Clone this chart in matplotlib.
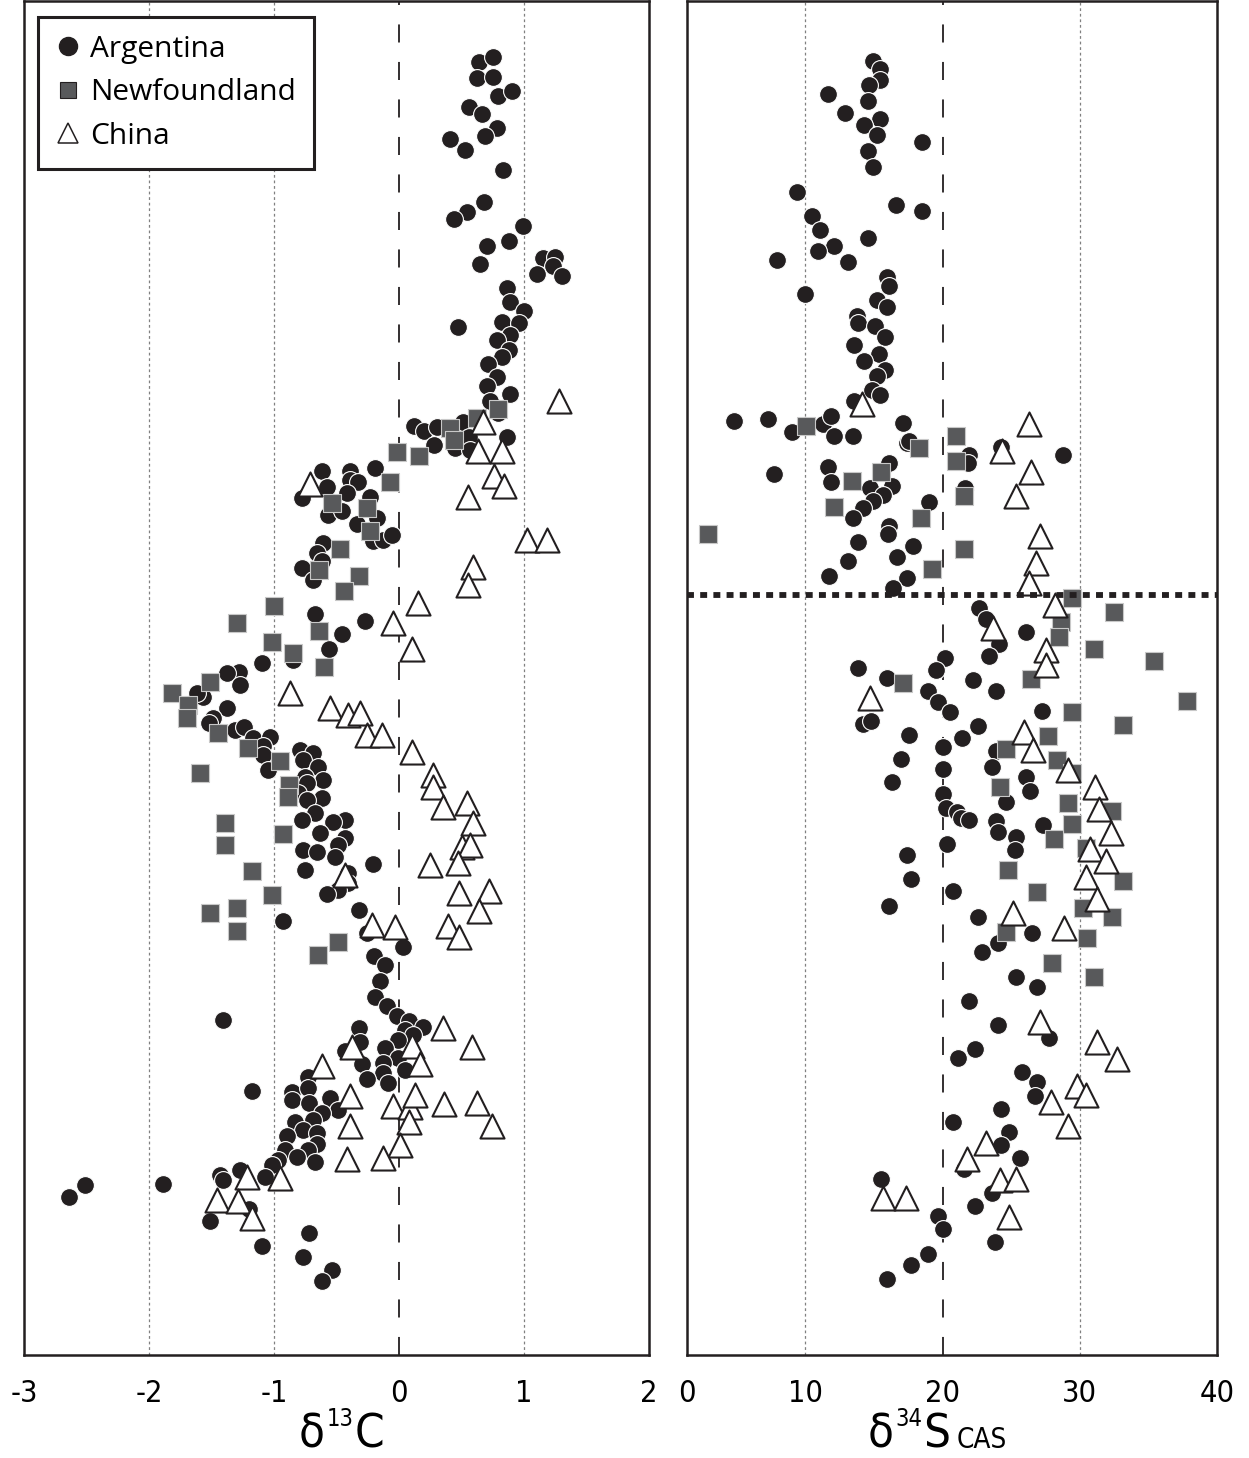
import matplotlib
matplotlib.use("Agg")
import matplotlib.pyplot as plt
from matplotlib.lines import Line2D
from matplotlib import font_manager as fm
from matplotlib.font_manager import FontProperties

# ---- pick a condensed sans font if one is installed ----
_files = [f.fname for f in fm.fontManager.ttflist]
_pref = ['LiberationSansNarrow-Regular', 'DejaVuSansCondensed.ttf', 'RobotoCondensed-Regular',
         'Roboto_Condensed-Regular', 'OpenSans_Condensed-Regular', 'OpenSans-CondensedRegular',
         'NotoSans-CondensedRegular', 'NotoSans_Condensed-Regular']
COND_FILE = None
for p in _pref:
    for f in _files:
        if p.lower() in f.lower():
            COND_FILE = f
            break
    if COND_FILE:
        break
if COND_FILE is None:
    for f in _files:
        fl = f.lower()
        if ('condensed' in fl or 'narrow' in fl) and not any(k in fl for k in ('bold', 'italic', 'oblique', 'light', 'thin', 'black', 'semi', 'medium', 'extra')):
            COND_FILE = f
            break


def cfont(size):
    if COND_FILE:
        return FontProperties(fname=COND_FILE, size=size)
    return FontProperties(family='Roboto', size=size)


plt.rcParams['lines.scale_dashes'] = False

# ---------------- data: delta13C (left panel), height in arbitrary units ----------------
arg_c_x = [0.64,0.75,0.62,0.75,0.79,0.90,0.56,0.66,0.78,0.69,0.41,0.53,0.83,0.68,0.54,0.44,0.99,0.70,0.88,0.65,
           1.15,1.25,1.23,1.10,1.30,0.86,0.89,1.00,0.82,0.96,0.89,0.47,0.78,0.88,0.82,0.71,0.78,0.70,0.89,0.73,
           0.79,0.12,0.20,0.30,0.51,0.28,0.45,0.56,0.57,0.86,-0.62,-0.39,-0.19,-0.39,-0.33,-0.58,-0.42,-0.78,-0.23,-0.57,
           -0.46,-0.18,-0.34,-0.21,-0.13,-0.06,-0.61,-0.66,-0.62,-0.78,-0.69,-0.67,-0.27,-0.46,-0.56,-0.85,-1.10,-1.28,-1.38,-1.27,
           -1.57,-1.62,-1.38,-1.49,-1.52,-1.31,-1.24,-1.17,-1.03,-1.09,-1.09,-1.05,-0.79,-0.69,-0.77,-0.65,-0.75,-0.61,-0.74,-0.81,
           -0.62,-0.74,-0.67,-0.78,-0.43,-0.53,-0.63,-0.43,-0.49,-0.77,-0.66,-0.51,-0.21,-0.75,-0.41,-0.41,-0.49,-0.58,-0.93,-0.32,
           -0.26,0.03,-0.20,-0.11,-0.15,-0.19,-0.10,-0.02,0.08,0.19,0.05,0.11,-0.01,-0.11,-0.01,-0.13,0.05,-0.13,-0.09,-0.32,
           -0.31,-0.43,-0.30,-0.26,-1.41,-1.18,-0.73,-0.86,-0.73,-0.86,-0.72,-0.55,-0.49,-0.62,-0.69,-0.83,-0.77,-0.66,-0.90,-0.66,
           -0.73,-0.91,-0.82,-0.67,-0.97,-1.02,-1.07,-1.27,-1.43,-1.41,-2.51,-2.64,-1.89,-1.20,-1.51,-1.10,-0.72,-0.77,-0.54,-0.62]
arg_c_h = [129.3,129.8,127.7,127.8,125.9,126.4,124.8,124.1,122.7,121.9,121.6,120.5,118.5,115.3,114.3,113.6,112.9,110.9,111.4,109.1,
           109.7,109.8,108.9,108.1,107.9,106.7,105.3,104.4,103.3,103.2,102.0,102.8,101.5,100.5,99.8,99.1,97.8,96.9,96.1,95.4,
           94.2,92.9,92.4,92.8,93.3,91.0,90.7,91.8,90.5,91.8,88.4,88.4,88.7,87.5,87.3,86.8,86.2,85.7,85.8,84.0,
           84.4,83.7,83.1,81.4,81.5,82.0,81.2,80.2,79.4,78.7,77.5,74.1,73.4,72.1,70.6,69.5,69.2,68.3,68.2,67.0,
           65.8,66.2,64.7,63.7,63.2,62.5,62.8,61.7,61.8,60.9,60.0,58.5,60.5,60.2,59.5,58.8,57.8,57.5,57.2,56.2,
           55.7,55.5,54.2,53.5,53.5,53.3,52.2,51.7,51.0,50.5,50.3,49.8,49.1,48.5,48.2,47.2,46.5,46.1,43.4,44.5,
           42.2,40.8,39.9,39.0,37.4,35.8,34.9,33.9,33.4,32.8,32.5,32.0,31.5,30.7,29.7,29.2,28.5,28.2,27.2,32.7,
           31.3,30.4,29.1,27.6,33.5,26.4,27.8,26.3,26.7,25.5,25.2,25.7,24.5,24.2,23.5,23.3,22.5,22.2,21.9,21.1,
           20.5,20.5,19.8,19.3,19.5,19.0,17.8,18.5,18.0,17.5,17.0,15.8,17.1,14.6,13.4,10.9,12.2,9.8,8.5,7.4]

nfl_c_x = [0.79,0.62,0.41,0.44,-0.02,0.16,-0.07,-0.54,-0.26,-0.23,-0.47,-0.64,-0.32,-0.44,-1.00,-1.30,-0.64,-1.02,-0.85,-0.60,
           -1.51,-1.82,-1.69,-1.70,-1.45,-1.21,-0.95,-0.88,-0.89,-1.59,-1.39,-1.39,-0.93,-1.18,-1.02,-1.51,-1.30,-1.30,-0.49,-0.65]
nfl_c_h = [94.6,93.7,92.7,91.5,90.3,89.9,87.3,85.2,84.7,82.4,80.6,78.5,77.9,76.4,74.9,73.2,72.4,71.3,70.2,68.8,
           67.3,66.2,65.0,63.7,62.2,60.7,59.4,57.0,55.8,58.2,53.2,51.0,52.1,48.4,46.0,44.2,44.7,42.4,41.3,40.0]

chn_c_x = [1.28,0.67,0.63,0.82,0.76,0.84,0.55,-0.71,1.02,1.18,0.59,0.55,0.15,-0.05,0.10,-0.87,-0.55,-0.41,-0.31,-0.26,
           -0.14,0.10,0.27,0.27,0.35,0.54,0.59,0.50,0.57,0.47,0.25,-0.43,0.48,0.72,0.64,0.39,0.48,-0.22,-0.03,0.35,
           0.58,0.10,0.17,-0.38,-0.62,-0.39,-0.05,0.09,0.13,0.36,0.62,0.74,0.08,-0.39,0.01,-0.42,-0.13,-0.95,-1.22,-1.46,
           -1.29,-1.18]
chn_c_h = [95.4,93.3,90.4,90.4,87.9,86.9,85.8,87.1,81.5,81.5,78.8,77.0,75.2,73.2,70.6,66.2,64.7,64.0,64.2,62.0,
           62.0,60.3,58.0,56.8,54.8,55.2,53.2,50.8,51.0,49.2,49.0,48.0,46.2,46.4,44.4,42.9,41.8,43.0,42.8,32.7,
           30.8,30.9,29.1,30.8,28.9,25.9,24.9,24.8,26.0,25.1,25.2,22.9,23.3,22.9,21.0,19.6,19.7,17.7,17.8,15.5,
           15.4,13.7]

# ---------------- data: delta34S CAS (right panel) ----------------
arg_s_x = [14.91,15.42,15.42,14.62,11.64,14.55,12.87,15.42,14.25,15.20,18.47,14.55,14.91,9.38,16.58,18.47,10.47,11.05,14.55,12.07,
           10.91,7.93,13.09,15.93,16.07,9.96,15.20,15.93,13.75,13.82,15.05,15.78,13.53,15.35,14.25,15.78,15.20,14.84,15.42,13.53,
           4.80,7.27,9.02,11.27,11.85,12.07,13.45,17.09,17.38,17.53,21.96,21.82,24.29,28.80,7.71,11.64,11.85,16.07,16.29,14.69,
           15.64,14.91,18.98,14.18,13.45,21.67,16.07,16.00,13.82,17.82,16.65,13.09,11.71,17.38,16.36,22.69,23.20,26.11,24.15,23.35,
           20.15,19.49,13.82,15.93,22.25,23.93,18.91,19.64,20.58,27.27,14.18,14.76,22.55,17.53,21.45,20.00,23.93,16.95,20.00,23.64,
           26.11,16.29,26.40,20.07,24.65,20.22,21.09,21.38,21.96,23.93,24.07,27.35,25.38,25.31,20.29,17.38,17.67,20.73,16.07,22.55,
           26.55,24.07,22.91,25.38,26.91,21.96,24.07,27.78,22.40,21.16,25.82,26.91,26.76,24.29,20.73,24.87,24.29,25.67,15.49,21.60,
           23.64,22.33,19.64,20.07,23.85,18.91,17.67,15.93]
arg_s_h = [129.4,128.6,127.5,127.0,126.1,125.4,124.2,123.6,123.0,122.0,121.3,120.4,118.8,116.3,115.0,114.4,113.9,112.5,111.7,110.9,
           110.4,109.5,109.3,107.8,106.9,106.1,105.5,104.8,103.9,103.2,102.9,101.8,101.0,100.1,99.4,98.5,97.9,96.5,96.0,95.4,
           93.4,93.6,92.3,93.1,93.9,91.9,91.9,93.2,91.2,91.4,90.0,89.2,90.8,90.0,88.1,88.8,87.3,89.2,86.9,86.7,
           86.0,85.4,85.3,84.7,83.7,86.7,82.9,82.1,81.3,80.9,79.8,79.4,77.9,77.7,76.7,74.7,73.6,72.3,71.1,69.9,
           69.7,68.5,68.7,67.7,67.5,66.4,66.4,65.3,64.3,64.4,63.1,63.4,62.9,62.0,61.7,60.8,60.4,59.6,58.6,58.8,
           57.8,57.3,56.4,56.1,55.3,54.7,54.3,53.7,53.5,53.4,52.3,53.0,51.8,50.5,51.1,50.0,47.6,46.4,44.9,43.8,
           42.2,41.2,40.3,37.8,36.8,35.4,33.0,31.7,30.6,29.7,28.3,27.3,25.9,24.6,23.3,22.3,21.0,19.7,17.6,18.6,
           16.2,14.9,13.9,12.6,11.3,10.1,9.0,7.6]

nfl_s_x = [10.04,18.25,20.95,20.95,15.49,13.38,12.07,21.60,18.40,2.91,21.60,19.20,29.45,32.51,28.65,28.51,31.05,35.42,17.09,26.47,
           37.82,29.45,33.16,27.71,24.65,28.36,29.45,24.22,29.16,32.36,29.45,28.15,30.47,24.80,33.16,26.91,30.25,32.36,24.65,30.55,
           28.00,31.05]
nfl_s_h = [92.9,90.7,91.9,89.4,88.3,87.4,84.8,85.9,83.7,82.1,80.6,78.6,75.7,74.3,73.3,71.8,70.6,69.4,67.2,67.6,
           65.4,64.3,63.0,61.9,60.6,59.5,58.2,56.8,55.2,54.4,53.1,51.6,50.7,48.5,47.4,46.3,44.7,43.8,42.3,41.7,
           39.2,37.8]

chn_s_x = [14.11,26.33,24.36,26.47,25.38,27.13,26.84,26.33,28.22,23.71,27.56,27.56,14.69,25.96,26.62,29.16,31.13,31.42,32.29,30.76,
           31.93,30.47,31.27,25.16,28.87,27.13,31.27,32.73,29.82,30.47,27.93,29.16,23.20,21.75,24.22,25.38,15.64,17.31,24.87]
chn_s_h = [95.1,93.1,90.4,88.3,85.9,81.9,79.2,77.2,75.0,72.7,70.5,69.0,65.7,62.3,60.5,58.5,56.8,54.6,52.2,50.6,
           49.4,47.8,45.6,44.2,42.7,33.3,31.3,29.6,26.9,26.0,25.3,22.9,21.2,19.6,17.5,17.6,15.7,15.7,13.8]

boundary_h = 76.0  # dotted horizontal boundary in the sulfur panel

c13_ticks = [-3, -2, -1, 0, 1, 2]
c13_labels = ['-3', '-2', '-1', '0', '1', '2']
s34_ticks = [1.38, 10, 20, 30, 40]
s34_labels = ['0', '10', '20', '30', '40']
legend_labels = ['Argentina', 'Newfoundland', 'China']

# ---------------- styles ----------------
DARK = '#231f20'
GREY = '#58595b'
circ = dict(marker='o', s=165, facecolor=DARK, edgecolor='white', linewidths=0.8, zorder=3)
sq = dict(marker='s', s=150, facecolor=GREY, edgecolor='#c8c8c8', linewidths=0.8, zorder=4)
tri = dict(marker='^', s=300, facecolor='white', edgecolor=DARK, linewidths=1.5, zorder=5)

W, H = 1249, 1458
fig = plt.figure(figsize=(W / 100, H / 100), dpi=100)
axL = fig.add_axes([24 / W, (H - 1355) / H, 625 / W, 1354 / H])
axR = fig.add_axes([687 / W, (H - 1355) / H, 530 / W, 1354 / H])

for ax in (axL, axR):
    ax.set_ylim(0, 135.4)
    ax.set_yticks([])
    for sp in ax.spines.values():
        sp.set_linewidth(1.8)
        sp.set_color(DARK)
    ax.tick_params(axis='x', length=0, pad=17)

# left panel
axL.set_xlim(-3, 2)
for gx in (-2, -1, 1):
    axL.axvline(gx, color='#808080', lw=0.9, ls=(0, (2, 2)), zorder=1)
axL.axvline(0, color=DARK, lw=1.3, ls=(0, (13, 14)), zorder=1)
axL.scatter(arg_c_x, arg_c_h, **circ)
axL.scatter(nfl_c_x, nfl_c_h, **sq)
axL.scatter(chn_c_x, chn_c_h, **tri)
axL.set_xticks(c13_ticks)
axL.set_xticklabels(c13_labels, fontproperties=cfont(22))

# right panel
axR.set_xlim(1.38, 40)
for gx in (10, 30):
    axR.axvline(gx, color='#808080', lw=0.9, ls=(0, (2, 2)), zorder=1)
axR.axvline(20, color=DARK, lw=1.3, ls=(0, (13, 14)), zorder=1)
axR.scatter(arg_s_x, arg_s_h, **circ)
axR.scatter(nfl_s_x, nfl_s_h, **sq)
axR.scatter(chn_s_x, chn_s_h, **tri)
axR.axhline(boundary_h, color=DARK, lw=4.2, ls=(0, (5, 4.5)), zorder=6)
axR.set_xticks(s34_ticks)
axR.set_xticklabels(s34_labels, fontproperties=cfont(22))

# legend
handles = [
    Line2D([], [], ls='none', marker='o', ms=13, mfc=DARK, mec=DARK),
    Line2D([], [], ls='none', marker='s', ms=12, mfc=GREY, mec=DARK, mew=0.8),
    Line2D([], [], ls='none', marker='^', ms=15, mfc='white', mec=DARK, mew=1.1),
]
leg = axL.legend(handles, legend_labels, loc='upper left',
                 bbox_to_anchor=((38 - 24) / 625, 1 - 16 / 1354), borderaxespad=0,
                 frameon=True, fancybox=False, framealpha=1, edgecolor=DARK,
                 prop={'family': 'Open Sans', 'size': 21.5}, handlelength=0.8,
                 handletextpad=0.35, labelspacing=0.48, borderpad=0.6)
leg.get_frame().set_linewidth(2.2)
leg.set_zorder(10)


# axis labels (built from pieces, positions in pixels from the top-left)
def ftxt(x, y, s, size):
    fig.text(x / W, (H - y) / H, s, ha='left', va='baseline', fontproperties=cfont(size))


ftxt(299, 1448, 'δ', 34)
ftxt(327, 1426, '13', 17)
ftxt(355, 1448, 'C', 34)
ftxt(868, 1448, 'δ', 34)
ftxt(895, 1426, '34', 17)
ftxt(923, 1448, 'S', 34)
ftxt(957, 1448, 'CAS', 20)

fig.savefig('out.png', dpi=100)
